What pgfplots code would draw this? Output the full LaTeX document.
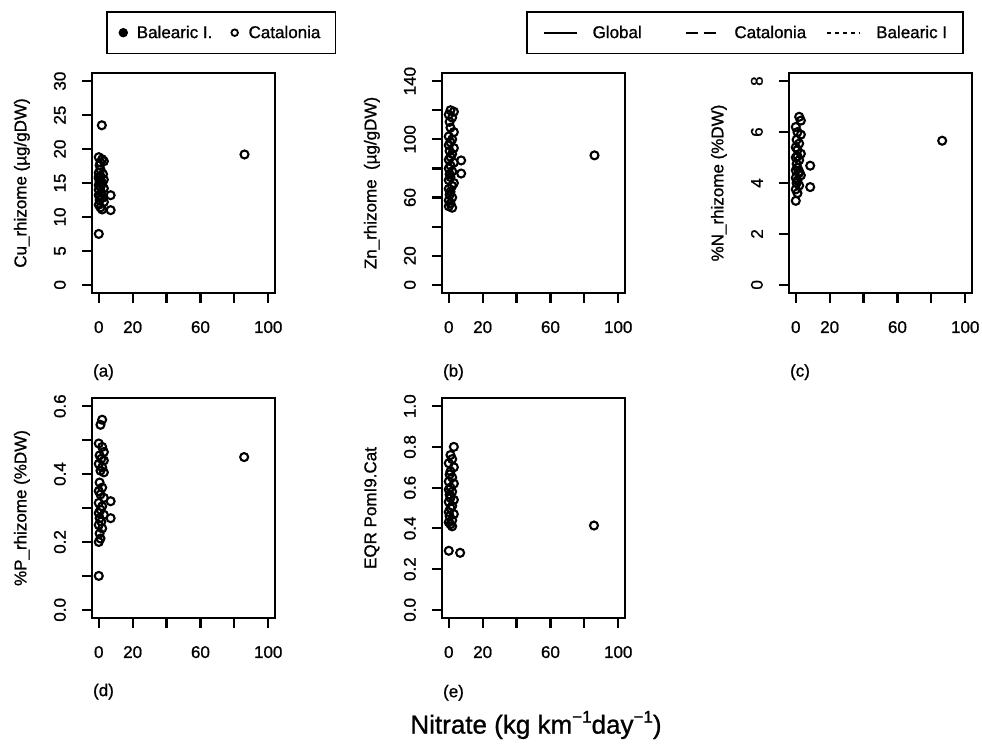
\documentclass[border=0pt]{standalone}
\usepackage{fontspec}
\setmainfont{Liberation Sans}[UprightFeatures={FakeBold=1}]
\usepackage{pgfplots}
\pgfplotsset{compat=1.18}
\newcommand{\ft}{\fontsize{17}{19}\selectfont}
\newcommand{\fx}{\fontsize{26}{28}\selectfont}
\pgfplotsset{
 pts/.style={black, only marks, mark=o, mark size=4pt, line width=2.1pt},
 panel/.style={
  scale only axis, width=183pt, height=220pt, anchor=south west,
  xmin=-4, xmax=104, line width=2.2pt,
  xtick={0,20,40,60,80,100}, xticklabels={0,20,,60,,100},
  /pgf/number format/assume math mode=true,
  axis line style={line width=2.2pt},
  tick style={line width=2.2pt, black},
  tick align=outside, major tick length=10pt,
  xtick pos=bottom, ytick pos=left,
  ticklabel style={font=\ft, inner sep=0pt},
  xticklabel style={anchor=north, yshift=-17pt},
  yticklabel style={xshift=-15pt, rotate=90, anchor=south},
  label style={font=\ft},
  ylabel style={at={(axis description cs:-0.383,0.5)}, anchor=center},
  xlabel style={anchor=west, inner sep=0pt},
 }
}
\begin{document}
\begin{tikzpicture}
\useasboundingbox (0pt,0pt) rectangle (982pt,747pt);
% (a)
\begin{axis}[panel, at={(92pt,454pt)}, ymin=-1.2, ymax=31.2,
  ytick={0,5,10,15,20,25,30}, yticklabels={0,5,10,15,20,25,30},
  ylabel={Cu\_rhizome (µg/gDW)}, xlabel={(a)},
  xlabel style={at={(axis description cs:0,-0.36)}}]
\addplot[pts] coordinates {(0,7.5) (1.8,23.5) (7,13.2) (7,11.0) (86,19.2)
 (0,18.8) (2,18.5) (3,18.2) (0.5,17.6) (1,17.0) (0,16.5) (2.5,16.3) (1,16.0)
 (0,15.7) (3,15.5) (0.5,15.2) (2,15.0) (0,14.7) (1,14.4) (3,14.2) (0,14.0)
 (1.5,13.6) (0,13.2) (2,12.8) (0.5,12.5) (3,12.2) (0,11.8) (1,11.4) (2,11.1)
 (0,15.9) (1,18.0) (1.5,14.9) (0.5,13.0)};
\end{axis}
% (b)
\begin{axis}[panel, at={(442pt,454pt)}, ymin=-5.6, ymax=145.6,
  ytick={0,20,40,60,80,100,120,140}, yticklabels={0,20,,60,,100,,140},
  ylabel={Zn\_rhizome~ (µg/gDW)}, xlabel={(b)},
  xlabel style={at={(axis description cs:0,-0.36)}}]
\addplot[pts] coordinates {(86,89) (7.3,85.5) (7.3,76.5)
 (1,120) (3,119) (0,117) (2,115) (0.5,112) (1,108) (3,105) (0,102) (2,100)
 (1,98) (0,96) (3,94) (0.5,92) (2,90) (1,88) (0,86) (3,84) (1,82) (0,80)
 (2,78) (0.5,76) (1,74) (0,72) (3,70) (2,68) (0,66) (1,64) (0.5,62) (2,60)
 (0,58) (1,56) (0,54) (2,53)};
\end{axis}
% (c)
\begin{axis}[panel, at={(789pt,454pt)}, ymin=-0.32, ymax=8.32,
  ytick={0,2,4,6,8}, yticklabels={0,2,4,6,8},
  ylabel={\%N\_rhizome (\%DW)}, xlabel={(c)},
  xlabel style={at={(axis description cs:0,-0.36)}}]
\addplot[pts] coordinates {(86.4,5.66) (8.5,4.68) (8.5,3.84)
 (2,6.6) (3,6.45) (0,6.2) (1,6.0) (3,5.9) (0.5,5.7) (2,5.55) (0,5.4) (1,5.3)
 (3,5.15) (0,5.0) (2,4.9) (0.5,4.75) (1,4.6) (0,4.5) (2,4.4) (3,4.3) (0,4.2)
 (1,4.1) (0.5,4.0) (2,3.9) (0,3.75) (1,3.6) (0,3.3) (2,4.45) (1,5.05)};
\end{axis}
% (d)
\begin{axis}[panel, at={(92pt,129pt)}, ymin=-0.024, ymax=0.624,
  ytick={0,0.1,0.2,0.3,0.4,0.5,0.6}, yticklabels={0.0,,0.2,,0.4,,0.6},
  ylabel={\%P\_rhizome (\%DW)}, xlabel={(d)},
  xlabel style={at={(axis description cs:0,-0.335)}}]
\addplot[pts] coordinates {(85.8,0.45) (7,0.32) (7,0.27) (0,0.10)
 (2,0.56) (1,0.545) (0,0.49) (2,0.48) (3,0.465) (0.5,0.455) (1.5,0.445)
 (3,0.44) (0,0.43) (2,0.42) (1,0.41) (3,0.405)
 (0.5,0.375) (2,0.36) (0,0.35) (1,0.34) (3,0.33) (0,0.315) (2,0.305)
 (1,0.295) (0,0.285) (3,0.28) (0.5,0.27) (1.5,0.26) (0,0.25) (2,0.24)
 (0.5,0.225) (1,0.21) (0,0.20)};
\end{axis}
% (e)
\begin{axis}[panel, at={(442pt,129pt)}, ymin=-0.04, ymax=1.04,
  ytick={0,0.2,0.4,0.6,0.8,1.0}, yticklabels={0.0,0.2,0.4,0.6,0.8,1.0},
  ylabel={EQR PomI9.Cat}, xlabel={(e)},
  xlabel style={at={(axis description cs:0,-0.34)}}]
\addplot[pts] coordinates {(85.7,0.414) (6.7,0.28) (0,0.29)
 (3,0.80) (1,0.76) (2,0.74) (0,0.72) (3,0.70) (1,0.68) (0.5,0.665) (2,0.65)
 (0,0.63) (3,0.62) (1,0.60) (0,0.59) (2,0.58) (0.5,0.565) (1,0.55) (3,0.54)
 (0,0.53) (2,0.51) (1,0.50) (0,0.48) (3,0.47) (0.5,0.46) (2,0.44) (0,0.43)
 (1,0.42) (2,0.41)};
\end{axis}
% legend 1
\begin{axis}[at={(0pt,0pt)}, anchor=south west, scale only axis, width=982pt, height=747pt,
  hide axis, xmin=0, xmax=982, ymin=0, ymax=747,
  legend style={at={(axis description cs:0.10794,0.98527)}, anchor=north west,
    draw=black, line width=1.6pt, inner xsep=0pt, inner ysep=14pt, font=\ft,
    nodes={inner sep=0pt, anchor=west}, column sep=0pt},
  legend columns=2,
  legend image code/.code={\path (0pt,0pt) (29pt,0pt);
    \draw[#1, mark repeat=2, mark phase=2] plot coordinates {(0pt,0pt) (16pt,0pt) (29pt,0pt)};}]
\addlegendimage{only marks, mark=*, mark size=4.2pt, black, line width=1pt}
\addlegendentry{\makebox[81pt][l]{Balearic I.}}
\addlegendimage{only marks, mark=o, mark size=3.3pt, black, line width=1.8pt}
\addlegendentry{\makebox[87pt][l]{Catalonia}}
\end{axis}
% legend 2
\begin{axis}[at={(0pt,0pt)}, anchor=south west, scale only axis, width=982pt, height=747pt,
  hide axis, xmin=0, xmax=982, ymin=0, ymax=747,
  legend style={at={(axis description cs:0.53564,0.98527)}, anchor=north west,
    draw=black, line width=1.6pt, inner xsep=0pt, inner ysep=14pt, font=\ft,
    nodes={inner sep=0pt, anchor=west}, column sep=0pt},
  legend columns=3,
  legend image code/.code={\path (0pt,0pt) (64pt,0pt);
    \draw[#1] (16pt,0pt) -- (49pt,0pt);}]
\addlegendimage{black, line width=1.8pt, solid}
\addlegendentry{\makebox[76pt][l]{Global}}
\addlegendimage{black, line width=1.8pt, dash pattern=on 12pt off 6pt}
\addlegendentry{\makebox[76pt][l]{Catalonia}}
\addlegendimage{black, line width=1.8pt, dash pattern=on 4pt off 4pt}
\addlegendentry{\makebox[87pt][l]{Balearic I}}
\end{axis}
\node[font=\fx, inner sep=0pt] at (536pt,22pt) {Nitrate (kg km\raisebox{0.42em}{\ft −1}day\raisebox{0.42em}{\ft −1})};
\end{tikzpicture}
\end{document}
